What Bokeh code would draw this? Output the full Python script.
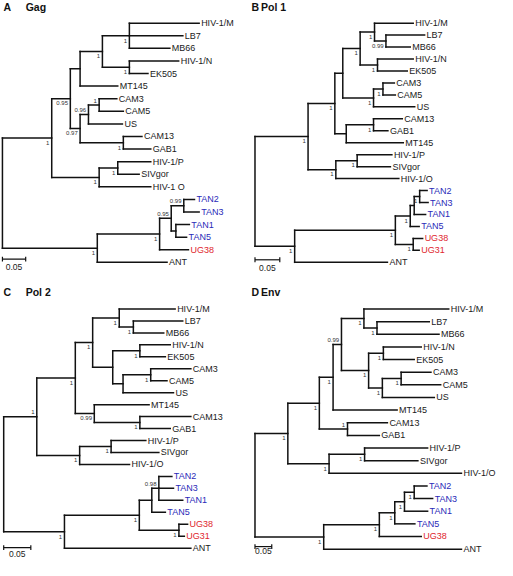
from bokeh.plotting import figure
from bokeh.models import ColumnDataSource, Range1d, LabelSet
from bokeh.layouts import gridplot
from bokeh.core.properties import value
from bokeh.embed import file_html
from bokeh.resources import INLINE

# ---------------- data ----------------
blue_taxa = ["TAN1", "TAN2", "TAN3", "TAN5"]
red_taxa = ["UG38", "UG31"]

# Panel A: Gag
A_tips = ["HIV-1/M", "LB7", "MB66", "HIV-1/N", "EK505", "MT145", "CAM3", "CAM5", "US",
          "CAM13", "GAB1", "HIV-1/P", "SIVgor", "HIV-1 O", "TAN2", "TAN3", "TAN1", "TAN5",
          "UG38", "ANT"]
A_tip_depth = [0.423, 0.388, 0.360, 0.379, 0.313, 0.248, 0.246, 0.260, 0.258, 0.300,
               0.319, 0.319, 0.294, 0.319, 0.413, 0.423, 0.402, 0.396, 0.400, 0.354]
# internal nodes: (first tip, last tip, node depth, support)
A_nodes = [(0, 19, 0.000, ""), (0, 13, 0.106, "1"), (0, 10, 0.146, "0.95"),
           (0, 5, 0.167, ""), (0, 4, 0.215, "1"), (0, 2, 0.273, "1"), (3, 4, 0.273, "1"),
           (6, 10, 0.167, "0.97"), (6, 8, 0.185, "0.96"), (6, 7, 0.208, "1"),
           (9, 10, 0.260, "1"), (11, 13, 0.208, "1"), (11, 12, 0.248, "1"),
           (14, 19, 0.204, "1"), (14, 18, 0.338, "1"), (14, 17, 0.363, "0.95"),
           (14, 15, 0.390, "0.99"), (16, 17, 0.373, "")]
A_above = [(6, 7), (6, 8), (14, 17), (14, 15)]

# Panel B: Pol 1
B_tips = ["HIV-1/M", "LB7", "MB66", "HIV-1/N", "EK505", "CAM3", "CAM5", "US", "CAM13",
          "GAB1", "MT145", "HIV-1/P", "SIVgor", "HIV-1/O", "TAN2", "TAN3", "TAN1", "TAN5",
          "UG38", "UG31", "ANT"]
B_tip_depth = [0.319, 0.342, 0.313, 0.319, 0.307, 0.281, 0.283, 0.322, 0.297, 0.268,
               0.299, 0.276, 0.273, 0.290, 0.347, 0.349, 0.344, 0.331, 0.338, 0.331, 0.267]
B_nodes = [(0, 20, 0.000, ""), (0, 13, 0.107, "1"), (0, 10, 0.161, "1"), (0, 7, 0.177, ""),
           (0, 4, 0.212, "1"), (0, 2, 0.241, "1"), (1, 2, 0.264, "0.99"), (3, 4, 0.247, "1"),
           (5, 7, 0.239, "1"), (5, 6, 0.258, "1"), (8, 10, 0.184, ""), (8, 9, 0.239, "1"),
           (11, 13, 0.163, "1"), (11, 12, 0.206, "1"), (14, 20, 0.080, "1"),
           (14, 19, 0.283, "1"), (14, 17, 0.313, "1"), (14, 16, 0.321, ""),
           (14, 15, 0.332, "1"), (18, 19, 0.319, "1")]
B_above = []

# Panel C: Pol 2
C_tips = ["HIV-1/M", "LB7", "MB66", "HIV-1/N", "EK505", "CAM3", "CAM5", "US", "MT145",
          "CAM13", "GAB1", "HIV-1/P", "SIVgor", "HIV-1/O", "TAN2", "TAN3", "TAN1", "TAN5",
          "UG38", "UG31", "ANT"]
C_tip_depth = [0.316, 0.330, 0.295, 0.307, 0.298, 0.345, 0.301, 0.313, 0.268, 0.345,
               0.307, 0.262, 0.286, 0.232, 0.310, 0.313, 0.330, 0.298, 0.339, 0.333, 0.345]
C_nodes = [(0, 20, 0.000, ""), (0, 13, 0.061, "1"), (0, 10, 0.132, "1"), (0, 7, 0.164, "1"),
           (0, 2, 0.213, "1"), (1, 2, 0.239, "1"), (3, 7, 0.201, ""), (3, 4, 0.251, "1"),
           (5, 7, 0.220, ""), (5, 6, 0.271, "1"), (8, 10, 0.167, "0.99"),
           (9, 10, 0.251, "1"), (11, 13, 0.140, "1"), (11, 12, 0.198, "1"),
           (14, 20, 0.112, "1"), (14, 19, 0.250, "1"), (14, 17, 0.273, ""),
           (14, 16, 0.286, "0.98"), (18, 19, 0.323, "1")]
C_above = [(0, 13), (14, 16)]

# Panel D: Env
D_tips = ["HIV-1/M", "LB7", "MB66", "HIV-1/N", "EK505", "CAM3", "CAM5", "US", "MT145",
          "CAM13", "GAB1", "HIV-1/P", "SIVgor", "HIV-1/O", "TAN2", "TAN3", "TAN1", "TAN5",
          "UG38", "ANT"]
D_tip_depth = [0.578, 0.520, 0.549, 0.496, 0.475, 0.525, 0.554, 0.535, 0.424, 0.395,
               0.371, 0.515, 0.486, 0.616, 0.513, 0.530, 0.515, 0.477, 0.496, 0.616]
D_nodes = [(0, 19, 0.000, ""), (0, 13, 0.098, "1"), (0, 10, 0.192, "1"), (0, 8, 0.233, "1"),
           (0, 7, 0.258, "0.99"), (0, 2, 0.325, "1"), (1, 2, 0.364, "1"), (3, 7, 0.339, "1"),
           (3, 4, 0.383, "1"), (5, 7, 0.380, "1"), (5, 6, 0.436, "1"), (9, 10, 0.276, "1"),
           (11, 13, 0.221, "1"), (11, 12, 0.327, "1"), (14, 19, 0.205, "1"),
           (14, 18, 0.371, "1"), (14, 17, 0.417, "1"), (14, 16, 0.446, "1"),
           (14, 15, 0.475, "1")]
D_above = [(0, 7), (9, 10)]

scale_bar_length = 0.05
scale_bar_text = "0.05"

# ---------------- drawing ----------------
FONT = value("Liberation Sans")
LINE = "#111111"
W, H = 248, 280


def layout_tree(tips, tip_depth, nodes):
    n_nodes = len(nodes)
    size = [nd[1] - nd[0] for nd in nodes]

    def parent_of_range(a, b, exclude=None):
        best = None
        for j, (f, l, d, s) in enumerate(nodes):
            if j == exclude or (f, l) == (a, b):
                continue
            if f <= a and b <= l and (best is None or size[j] < size[best]):
                best = j
        return best

    tip_parent = [parent_of_range(k, k) for k in range(len(tips))]
    node_parent = [parent_of_range(nd[0], nd[1], j) for j, nd in enumerate(nodes)]
    node_y = [None] * n_nodes

    def kids_of(j):
        kids = [(k, float(k)) for k in range(len(tips)) if tip_parent[k] == j]
        kids += [(nodes[i][0], node_y[i]) for i in range(n_nodes) if node_parent[i] == j]
        kids.sort()
        return kids

    for j in sorted(range(n_nodes), key=lambda i: size[i]):
        kids = kids_of(j)
        node_y[j] = (kids[0][1] + kids[-1][1]) / 2.0
    segs = {"x0": [], "y0": [], "x1": [], "y1": []}

    def add(x0, y0, x1, y1):
        segs["x0"].append(x0); segs["y0"].append(y0)
        segs["x1"].append(x1); segs["y1"].append(y1)

    for j, (f, l, d, s) in enumerate(nodes):
        kids = kids_of(j)
        add(d, kids[0][1], d, kids[-1][1])
        if node_parent[j] is not None:
            add(nodes[node_parent[j]][2], node_y[j], d, node_y[j])
    for k in range(len(tips)):
        add(nodes[tip_parent[k]][2], float(k), tip_depth[k], float(k))
    return node_y, segs


def make_panel(letter, title, tips, tip_depth, nodes, above,
               root_px, ppu, y0, dy, bar_px, bar_lab_px, title_px, word_px):
    def lx(px):
        return (px - root_px) / ppu

    def ly(px):
        return (px - y0) / dy

    p = figure(width=W, height=H, x_range=Range1d(lx(0), lx(256)),
               y_range=Range1d(ly(288), ly(0)), output_backend="svg",
               toolbar_location=None, tools="", min_border=0)
    p.axis.visible = False
    p.grid.visible = False
    p.outline_line_color = None

    node_y, segs = layout_tree(tips, tip_depth, nodes)
    p.segment(x0="x0", y0="y0", x1="x1", y1="y1", source=ColumnDataSource(segs),
              line_color=LINE, line_width=1.5, line_cap="square")

    groups = [("#1a1a1a", [t for t in tips if t not in blue_taxa and t not in red_taxa]),
              ("#2a2ab8", [t for t in tips if t in blue_taxa]),
              ("#e0262e", [t for t in tips if t in red_taxa])]
    for color, names in groups:
        idx = [tips.index(n) for n in names]
        src = ColumnDataSource(dict(x=[tip_depth[i] for i in idx], y=idx, t=names))
        p.add_layout(LabelSet(x="x", y="y", text="t", source=src, text_color=color,
                              text_font=FONT, text_font_size="9px",
                              text_baseline="middle", x_offset=2))

    for is_above in (False, True):
        bx, by, bt = [], [], []
        for j, (f, l, d, s) in enumerate(nodes):
            if s and (((f, l) in above) == is_above):
                bx.append(d); by.append(node_y[j]); bt.append(s)
        src = ColumnDataSource(dict(x=bx, y=by, t=bt))
        p.add_layout(LabelSet(x="x", y="y", text="t", source=src,
                              y_offset=(4.3 if is_above else -4.8),
                              text_font=FONT, text_font_size="6px", text_color="#333333",
                              text_align="right", text_baseline="middle", x_offset=-2.3))

    # scale bar
    t = 2.5 / dy
    yb = ly(bar_px)
    p.segment(x0=[0, 0, scale_bar_length], y0=[yb, yb - t, yb - t],
              x1=[scale_bar_length, 0, scale_bar_length], y1=[yb, yb + t, yb + t],
              line_color=LINE, line_width=1.2)
    src = ColumnDataSource(dict(x=[scale_bar_length / 2], y=[ly(bar_lab_px)], t=[scale_bar_text]))
    p.add_layout(LabelSet(x="x", y="y", text="t", source=src,
                          text_font=FONT, text_font_size="8.5px", text_color="#1a1a1a",
                          text_align="center", text_baseline="middle"))

    # panel title
    src = ColumnDataSource(dict(x=[lx(3), lx(word_px)], y=[ly(title_px)] * 2, t=[letter, title]))
    p.add_layout(LabelSet(x="x", y="y", text="t", source=src, text_font=FONT,
                          text_font_size="10.5px", text_font_style="bold",
                          text_baseline="middle", text_color="#111111"))
    return p


pA = make_panel("A", "Gag", A_tips, A_tip_depth, A_nodes, A_above,
                2, 480, 23.3, 12.95, 266, 274, 6.7, 26)
pB = make_panel("B", "Pol 1", B_tips, B_tip_depth, B_nodes, B_above,
                6.7, 512, 23.3, 12.3, 266.7, 275, 6.7, 13)
pC = make_panel("C", "Pol 2", C_tips, C_tip_depth, C_nodes, C_above,
                3.3, 560, 29.3, 12.3, 274.7, 281.3, 12, 26)
pD = make_panel("D", "Env", D_tips, D_tip_depth, D_nodes, D_above,
                6.7, 346, 29.3, 13.0, 273.7, 278.7, 12, 13)

grid = gridplot([[pA, pB], [pC, pD]], toolbar_location=None)
open("out.html", "w").write(file_html(grid, INLINE))
